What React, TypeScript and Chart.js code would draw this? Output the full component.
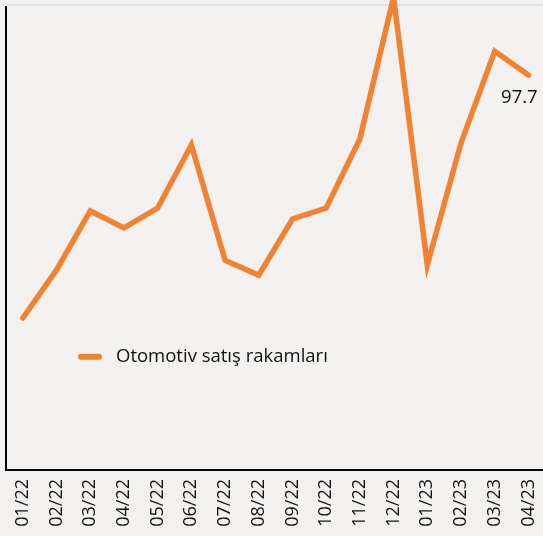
import React, { useEffect, useRef } from "react";
import { Chart, registerables } from "chart.js";

Chart.register(...registerables);

const categories = ["01/22", "02/22", "03/22", "04/22", "05/22", "06/22", "07/22", "08/22", "09/22", "10/22", "11/22", "12/22", "01/23", "02/23", "03/23", "04/23"];
const salesValues = [37.6, 49.5, 64.1, 59.9, 64.8, 80.4, 51.9, 48.2, 62.1, 64.8, 81.9, 117.0, 50.7, 80.9, 103.6, 97.7];
const seriesName = "Otomotiv satış rakamları";
const lastLabel = "97.7";

const ORANGE = "#F08232";
const BG = "#F2F1EF";
const FONT = "'Open Sans', sans-serif";
const W = 559;

export default function App() {
  const ref = useRef<HTMLCanvasElement | null>(null);

  useEffect(() => {
    document.body.style.margin = "0";
    document.body.style.overflow = "hidden";
    const canvas = ref.current;
    if (!canvas) return;

    const decor = {
      id: "decor",
      beforeDraw(chart: any) {
        const { ctx, width, height } = chart;
        ctx.save();
        ctx.fillStyle = BG;
        ctx.fillRect(0, 0, width, height);
        const a = chart.chartArea;
        ctx.strokeStyle = "#E3E3E3";
        ctx.lineWidth = 2;
        ctx.beginPath();
        ctx.moveTo(a.left, a.top - 1);
        ctx.lineTo(a.right, a.top - 1);
        ctx.stroke();
        ctx.restore();
      },
      afterDraw(chart: any) {
        const { ctx } = chart;
        const a = chart.chartArea;
        ctx.save();
        ctx.strokeStyle = "#000";
        ctx.lineWidth = 2;
        ctx.beginPath();
        ctx.moveTo(a.left, a.top);
        ctx.lineTo(a.left, a.bottom);
        ctx.lineTo(a.right, a.bottom);
        ctx.stroke();
        const ly = a.top + (a.bottom - a.top) * 0.756;
        ctx.strokeStyle = ORANGE;
        ctx.lineWidth = 6;
        ctx.lineCap = "round";
        ctx.beginPath();
        ctx.moveTo(81, ly);
        ctx.lineTo(99, ly);
        ctx.stroke();
        ctx.fillStyle = "#111";
        ctx.font = `18.5px ${FONT}`;
        ctx.textBaseline = "middle";
        ctx.textAlign = "left";
        ctx.fillText(seriesName, 116, ly);
        const meta = chart.getDatasetMeta(0);
        const pt = meta.data[meta.data.length - 1];
        ctx.font = `18.5px ${FONT}`;
        ctx.textAlign = "center";
        ctx.fillText(lastLabel, pt.x - 9, pt.y + 23);
        ctx.restore();
      },
    };

    const chart = new Chart(canvas, {
      type: "line",
      data: {
        labels: categories,
        datasets: [
          {
            label: seriesName,
            data: salesValues,
            borderColor: ORANGE,
            backgroundColor: ORANGE,
            borderWidth: 5.5,
            pointRadius: 0,
            tension: 0,
            borderCapStyle: "round",
            borderJoinStyle: "miter",
            clip: false as any,
          },
        ],
      },
      options: {
        responsive: false,
        animation: false,
        layout: { padding: { top: 6, left: 0, right: 0, bottom: 0 } },
        plugins: {
          legend: { display: false },
          tooltip: { enabled: false },
        },
        scales: {
          x: {
            type: "category",
            offset: true,
            grid: { display: false, drawTicks: false },
            border: { display: false },
            ticks: {
              autoSkip: false,
              maxRotation: 90,
              minRotation: 90,
              color: "#111",
              font: { family: FONT, size: 18 },
              padding: 9,
            },
            afterFit(scale: any) {
              scale.height = 66;
            },
          },
          y: {
            min: 0,
            max: 114.8,
            grid: { display: false, drawTicks: false },
            border: { display: false },
            ticks: { display: false },
            afterFit(scale: any) {
              scale.width = 6;
            },
          },
        },
      },
      plugins: [decor],
    });

    return () => chart.destroy();
  }, []);

  return (
    <div style={{ width: W, height: 536, position: "relative" }}>
      <canvas ref={ref} width={W} height={536} style={{ display: "block" }} />
    </div>
  );
}
